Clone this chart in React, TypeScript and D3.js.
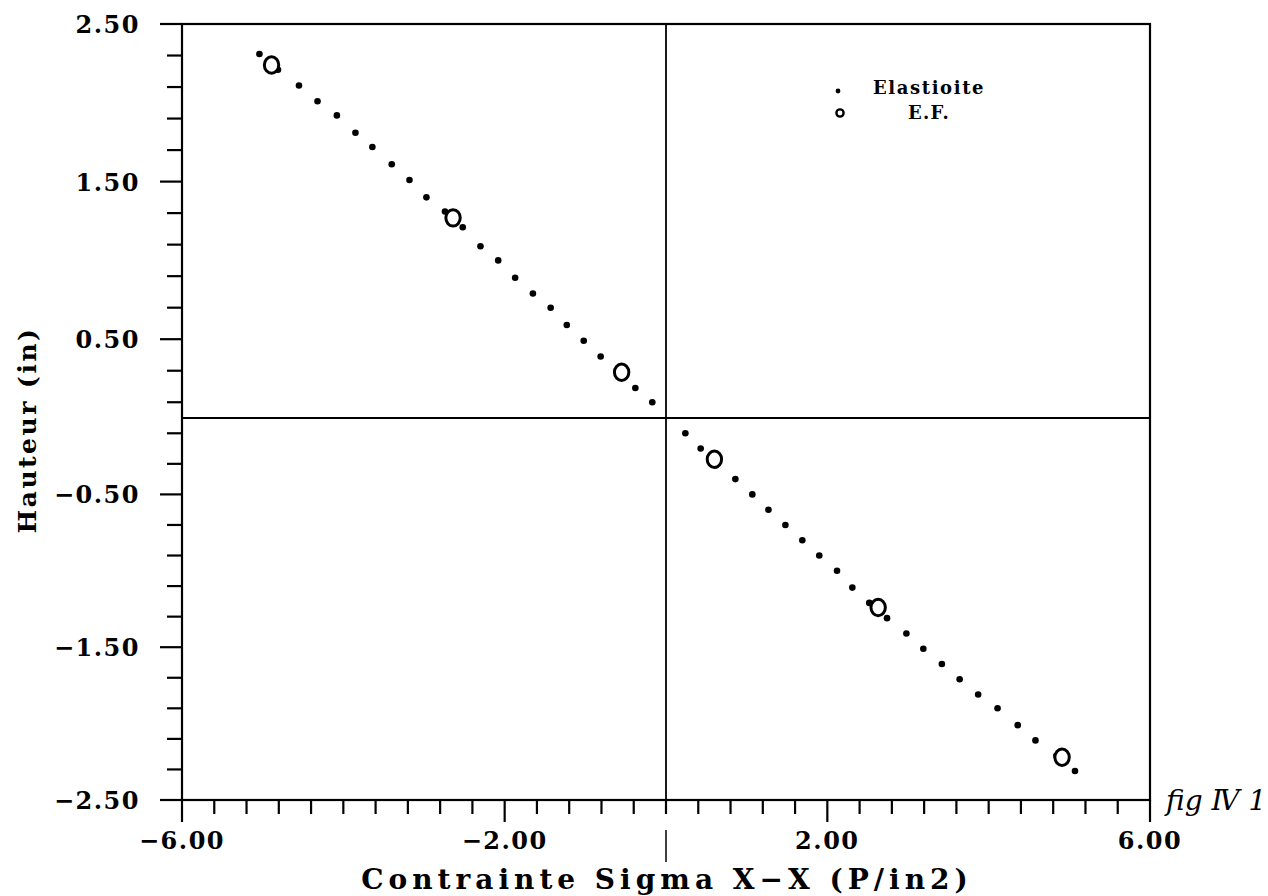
import React from 'react';
import * as d3 from 'd3';

// Elastioite (small dots)
const elastX = [
  -5.04, -4.81, -4.55, -4.32, -4.08, -3.85, -3.64, -3.40, -3.18, -2.97, -2.74, -2.52,
  -2.30, -2.08, -1.87, -1.65, -1.43, -1.23, -1.02, -0.81, -0.60, -0.38, -0.17,
  0.24, 0.43, 0.62, 0.86, 1.07, 1.27, 1.48, 1.69, 1.90, 2.12, 2.31, 2.52,
  2.74, 2.98, 3.19, 3.42, 3.64, 3.87, 4.11, 4.36, 4.58, 4.84, 5.07,
];
const elastY = [
  2.31, 2.21, 2.11, 2.01, 1.92, 1.81, 1.72, 1.61, 1.51, 1.40, 1.31, 1.21,
  1.09, 1.00, 0.89, 0.79, 0.70, 0.59, 0.49, 0.39, 0.29, 0.19, 0.10,
  -0.10, -0.20, -0.31, -0.40, -0.50, -0.60, -0.70, -0.80, -0.90, -1.00, -1.11, -1.21,
  -1.31, -1.41, -1.51, -1.61, -1.71, -1.81, -1.90, -2.01, -2.11, -2.21, -2.31,
];

// E.F. (open circles)
const efX = [-4.89, -2.64, -0.55, 0.60, 2.63, 4.91];
const efY = [2.24, 1.27, 0.29, -0.27, -1.24, -2.22];

const xLabels = [-6, -2, 2, 6];
const yLabels = [-2.5, -1.5, -0.5, 0.5, 1.5, 2.5];
const xMinorStep = 0.4;
const yMinorStep = 0.2;

const FONT = '"DejaVu Serif", serif';

export default function App() {
  const W = 1268, H = 896;
  const x = d3.scaleLinear().domain([-6, 6]).range([182, 1150]);
  // scanned plot is a little uneven above / below zero
  const y = d3.scaleLinear().domain([-2.5, 0, 2.5]).range([800, 418, 24]);

  const xMinor = d3.range(0, Math.round(12 / xMinorStep) + 1).map(i => -6 + i * xMinorStep);
  const yMinor = d3.range(0, Math.round(5 / yMinorStep) + 1).map(i => -2.5 + i * yMinorStep);

  const fmt = d3.format('.2f');
  const lab = (v: number) => fmt(v).replace('-', '\u2212');

  return (
    <svg width={W} height={H} style={{ position: 'absolute', left: 0, top: 0, background: '#fff' }}>
      {/* frame */}
      <rect x={x(-6)} y={y(2.5)} width={x(6) - x(-6)} height={y(-2.5) - y(2.5)}
        fill="none" stroke="#000" strokeWidth={2.2} />
      {/* zero lines */}
      <line x1={x(0)} x2={x(0)} y1={y(2.5)} y2={y(-2.5)} stroke="#000" strokeWidth={1.8} />
      <line x1={x(-6)} x2={x(6)} y1={y(0)} y2={y(0)} stroke="#000" strokeWidth={1.8} />
      <line x1={x(0)} x2={x(0)} y1={830} y2={862} stroke="#000" strokeWidth={1.5} />

      {/* x ticks */}
      {xMinor.map((v, i) => {
        const major = xLabels.some(l => Math.abs(l - v) < 1e-6);
        return <line key={'xt' + i} x1={x(v)} x2={x(v)} y1={y(-2.5)} y2={y(-2.5) + (major ? 22 : 14)}
          stroke="#000" strokeWidth={2.2} />;
      })}
      {xLabels.map(v => (
        <text key={'xl' + v} x={x(v)} y={849} textAnchor="middle" fontFamily={FONT}
          fontWeight="bold" fontSize={24} letterSpacing={1.5}>{lab(v)}</text>
      ))}

      {/* y ticks */}
      {yMinor.map((v, i) => {
        const major = yLabels.some(l => Math.abs(l - v) < 1e-6);
        return <line key={'yt' + i} x1={x(-6) - (major ? 22 : 15)} x2={x(-6)} y1={y(v)} y2={y(v)}
          stroke="#000" strokeWidth={2.2} />;
      })}
      {yLabels.map(v => (
        <text key={'yl' + v} x={140} y={y(v) + 9} textAnchor="end" fontFamily={FONT}
          fontWeight="bold" fontSize={24} letterSpacing={1.5}>{lab(v)}</text>
      ))}

      {/* axis titles */}
      <text x={667} y={889} textAnchor="middle" fontFamily={FONT} fontWeight="bold"
        fontSize={28} letterSpacing={5}>Contrainte Sigma X{'\u2212'}X (P/in2)</text>
      <text transform="translate(36,430) rotate(-90)" textAnchor="middle" fontFamily={FONT}
        fontWeight="bold" fontSize={25} letterSpacing={2.5}>Hauteur (in)</text>

      {/* Elastioite dots */}
      {elastX.map((v, i) => (
        <circle key={'e' + i} cx={x(v)} cy={y(elastY[i])} r={3.3} fill="#000" />
      ))}
      {/* E.F. circles */}
      {efX.map((v, i) => (
        <ellipse key={'f' + i} cx={x(v)} cy={y(efY[i])} rx={7.2} ry={8.2}
          fill="#fff" stroke="#000" strokeWidth={3} />
      ))}

      {/* legend */}
      <circle cx={838} cy={91} r={2.4} fill="#000" />
      <text x={873} y={94} fontFamily={FONT} fontWeight="bold" fontSize={18} letterSpacing={1.6}>Elastioite</text>
      <circle cx={840} cy={113} r={3.6} fill="none" stroke="#000" strokeWidth={2.4} />
      <text x={908} y={119} fontFamily={FONT} fontWeight="bold" fontSize={18} letterSpacing={1.2}>E.F.</text>

      {/* handwritten note */}
      <text x={1166} y={810} fontFamily={FONT} fontStyle="italic" fontSize={28}>fig {'\u2163'} 1</text>
    </svg>
  );
}
